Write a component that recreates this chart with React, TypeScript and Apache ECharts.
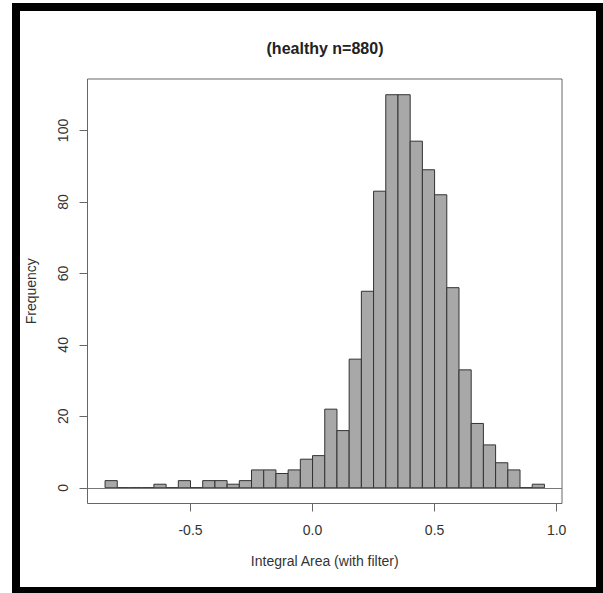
import React, { useEffect, useRef } from "react";
import * as echarts from "echarts";

// Histogram bin starts (width 0.05) and counts
const binStarts: number[] = [
  -0.85, -0.8, -0.75, -0.7, -0.65, -0.6, -0.55, -0.5, -0.45, -0.4, -0.35, -0.3,
  -0.25, -0.2, -0.15, -0.1, -0.05, 0.0, 0.05, 0.1, 0.15, 0.2, 0.25, 0.3, 0.35,
  0.4, 0.45, 0.5, 0.55, 0.6, 0.65, 0.7, 0.75, 0.8, 0.85, 0.9,
];
const binWidth = 0.05;
const counts: number[] = [
  2, 0, 0, 0, 1, 0, 2, 0, 2, 2, 1, 2, 5, 5, 4, 5, 8, 9, 22, 16, 36, 55, 83, 110,
  110, 97, 89, 82, 56, 33, 18, 12, 7, 5, 0, 1,
];
const xTicks: number[] = [-0.5, 0, 0.5, 1.0];
const yTicks: number[] = [0, 20, 40, 60, 80, 100];
const titleText = "(healthy n=880)";
const xName = "Integral Area (with filter)";
const yName = "Frequency";

const FONT = '"Liberation Sans", Arial, Helvetica, sans-serif';

export default function App() {
  const ref = useRef<HTMLDivElement>(null);
  useEffect(() => {
    if (!ref.current) return;
    const chart = echarts.init(ref.current, undefined, { renderer: "svg" });
    const data = binStarts.map((s, i) => [
      Math.round(s * 100) / 100,
      Math.round((s + binWidth) * 100) / 100,
      counts[i],
    ]);
    const xMinData = binStarts[0];
    const xMaxData = binStarts[binStarts.length - 1] + binWidth;
    const xPad = (xMaxData - xMinData) * 0.04;
    const yMaxData = Math.max(...counts);
    const yPad = yMaxData * 0.04;
    chart.setOption({
      animation: false,
      backgroundColor: "#ffffff",
      grid: {
        left: 87.5,
        right: 41,
        top: 79,
        bottom: 89.5,
        show: true,
        borderColor: "#666",
        borderWidth: 1,
        backgroundColor: "transparent",
      },
      xAxis: {
        type: "value",
        position: "bottom",
        min: xMinData - xPad,
        max: xMaxData + xPad,
        name: xName,
        nameLocation: "middle",
        nameGap: 50,
        nameTextStyle: { fontFamily: FONT, fontSize: 14, color: "#333" },
        axisLine: { show: false, onZero: false },
        splitLine: { show: false },
        axisTick: {
          show: true,
          length: 8,
          customValues: xTicks,
          lineStyle: { color: "#666", width: 1 },
        },
        axisLabel: {
          customValues: xTicks,
          margin: 19,
          fontFamily: FONT,
          fontSize: 14,
          color: "#333",
          formatter: (v: number) => v.toFixed(1),
        },
      },
      yAxis: {
        type: "value",
        position: "left",
        min: -yPad,
        max: yMaxData + yPad,
        name: yName,
        nameLocation: "middle",
        nameGap: 50,
        nameRotate: 90,
        nameTextStyle: { fontFamily: FONT, fontSize: 14, color: "#333" },
        axisLine: { show: false, onZero: false },
        splitLine: { show: false },
        axisTick: {
          show: true,
          length: 8,
          customValues: yTicks,
          lineStyle: { color: "#666", width: 1 },
        },
        axisLabel: {
          customValues: yTicks,
          rotate: 90,
          margin: 18,
          fontFamily: FONT,
          fontSize: 14,
          color: "#333",
        },
      },
      graphic: [
        {
          type: "rect",
          shape: { x: 16, y: 7, width: 584, height: 584 },
          style: { fill: "none", stroke: "#000", lineWidth: 8 },
          silent: true,
          z: 100,
        },
        {
          type: "text",
          x: 325,
          y: 48,
          style: {
            text: titleText,
            font: `bold 16px ${FONT}`,
            fill: "#222",
            textAlign: "center",
            textVerticalAlign: "middle",
          },
          silent: true,
        },
      ],
      series: [
        {
          type: "custom",
          data,
          encode: { x: [0, 1], y: 2 },
          renderItem: (params: any, api: any) => {
            const x0 = api.value(0);
            const x1 = api.value(1);
            const h = api.value(2);
            const p0 = api.coord([x0, h]);
            const p1 = api.coord([x1, 0]);
            return {
              type: "rect",
              shape: {
                x: p0[0],
                y: p0[1],
                width: p1[0] - p0[0],
                height: p1[1] - p0[1],
              },
              style: { fill: "#A8A8A8", stroke: "#333", lineWidth: 1 },
            };
          },
          markLine: {
            silent: true,
            symbol: "none",
            label: { show: false },
            lineStyle: { color: "#777", type: "solid", width: 1 },
            data: [{ yAxis: 0 }],
          },
        },
      ],
    });
    return () => chart.dispose();
  }, []);
  return (
    <div
      ref={ref}
      style={{ position: "absolute", left: 0, top: 0, width: 603, height: 593 }}
    />
  );
}
